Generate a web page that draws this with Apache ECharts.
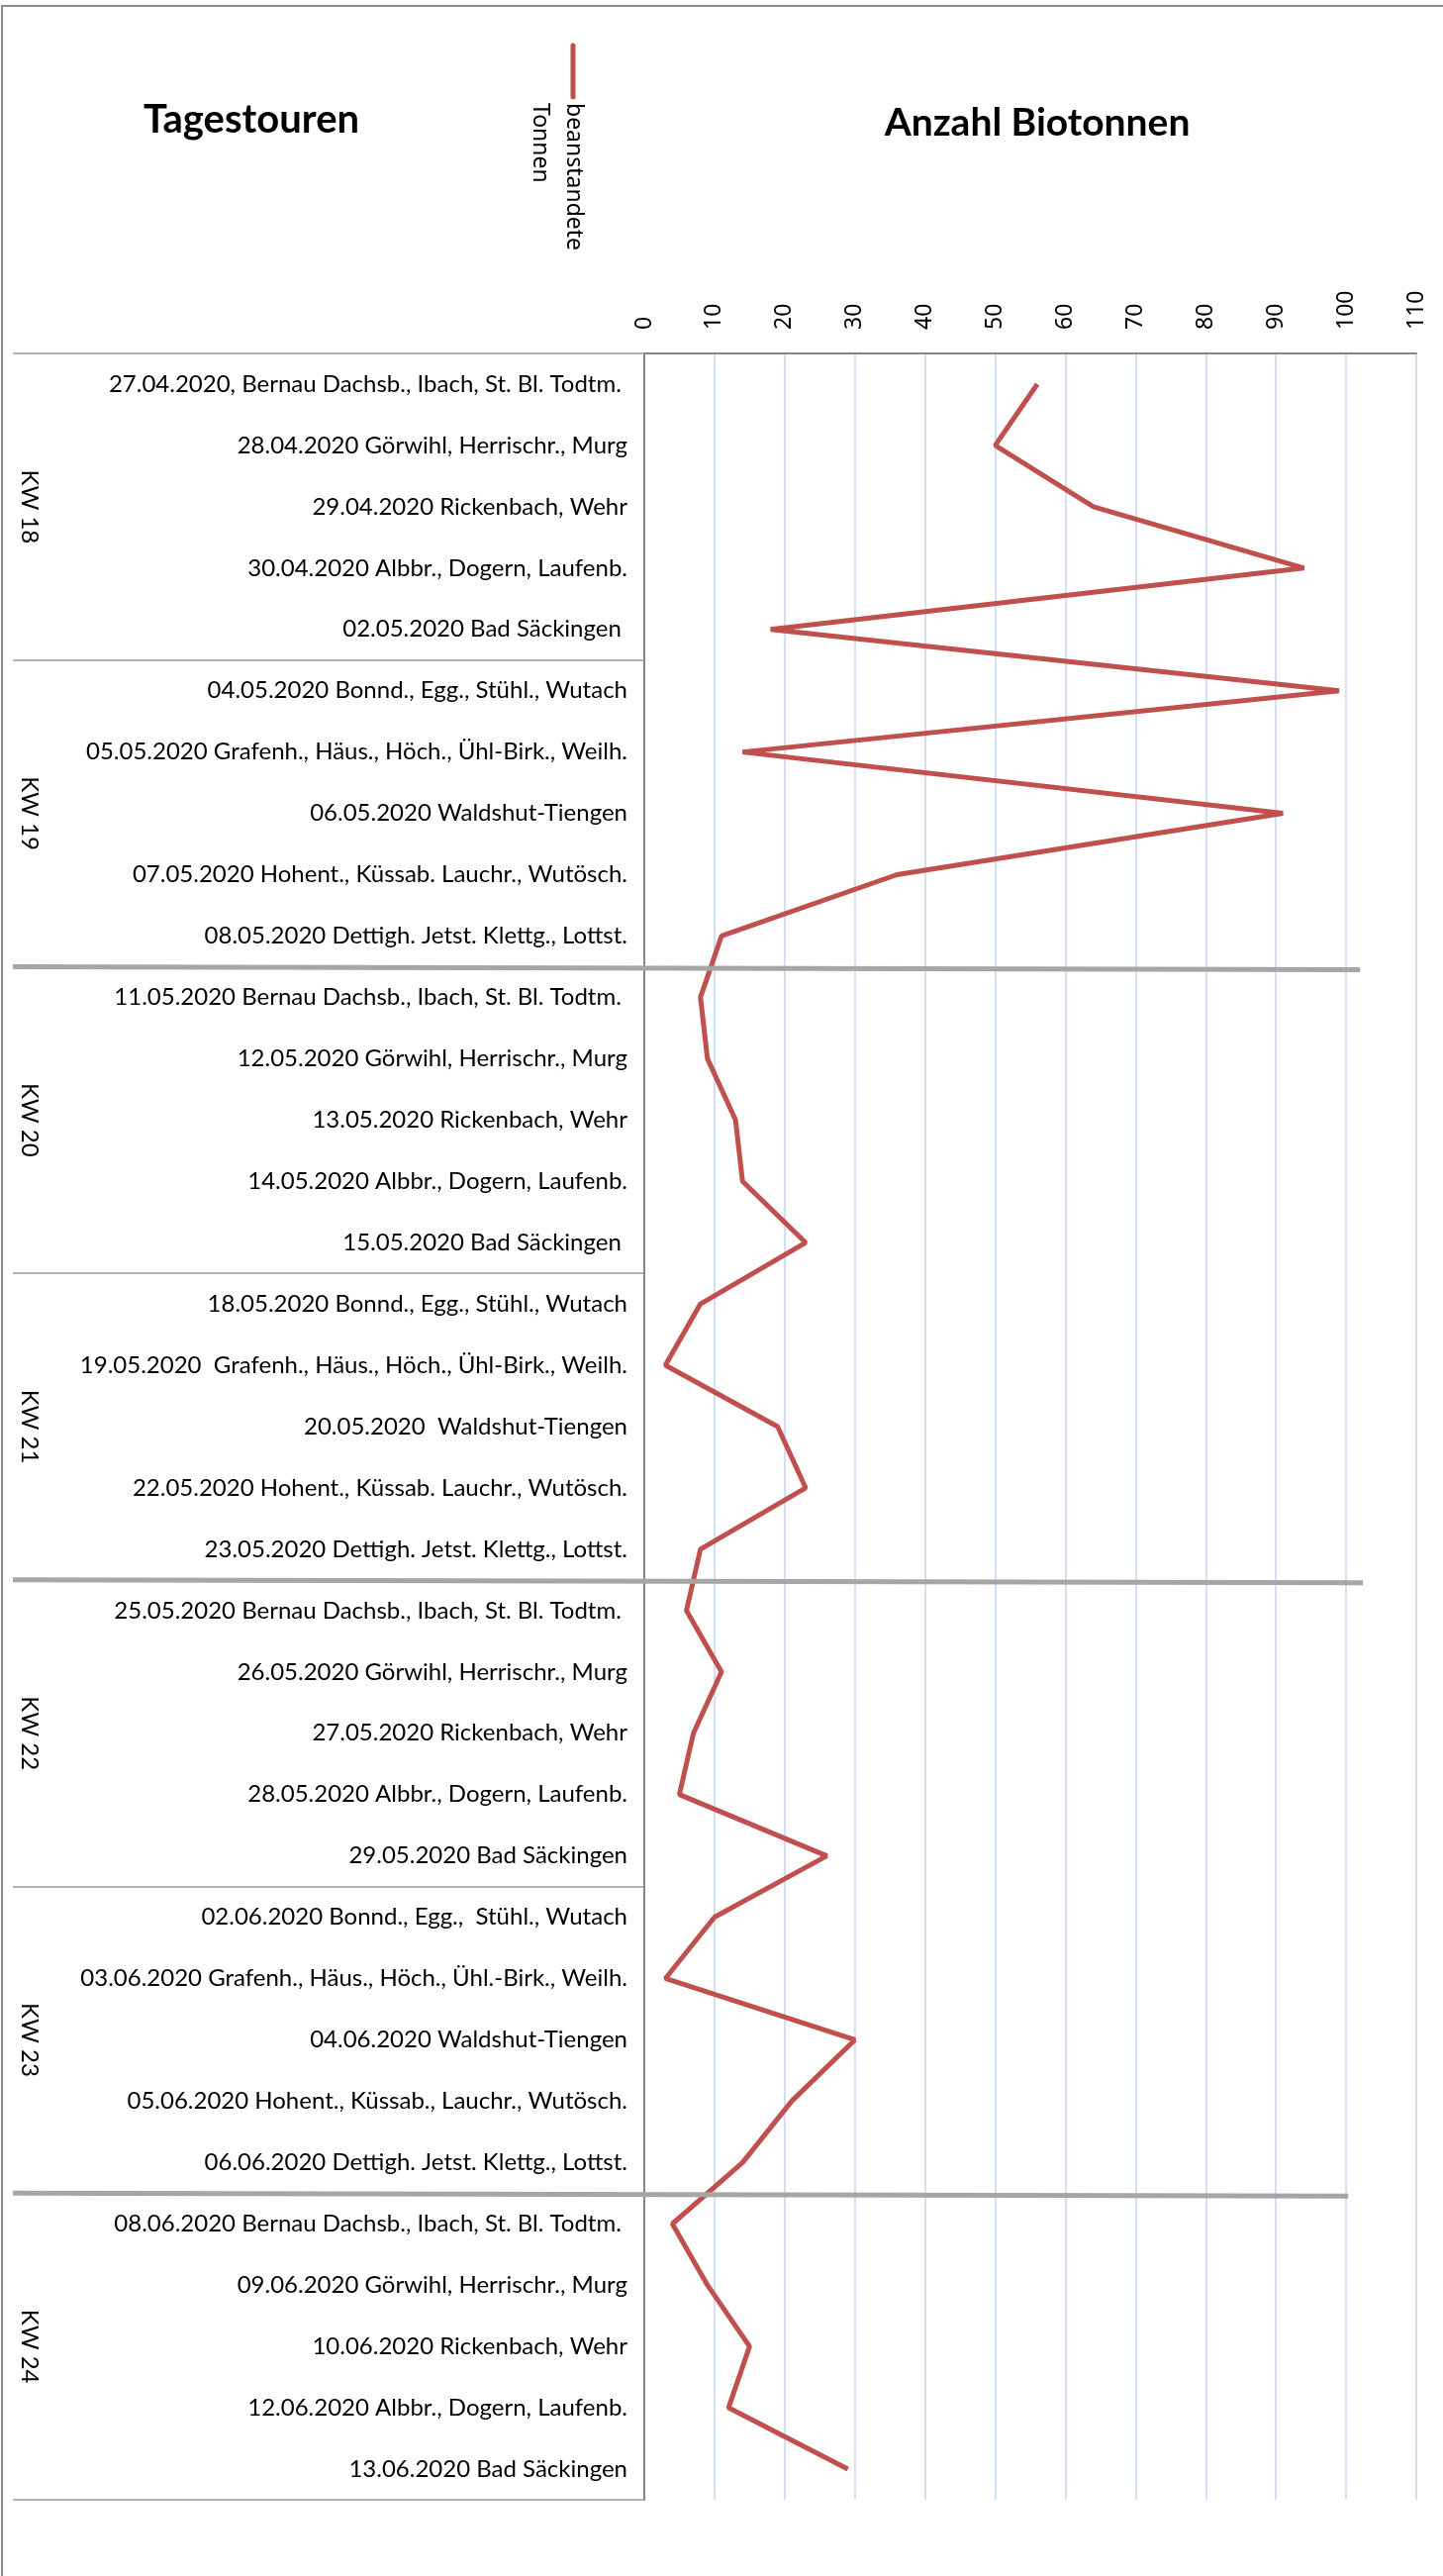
<!DOCTYPE html>
<html>
<head>
<meta charset="utf-8">
<script src="https://cdn.jsdelivr.net/npm/echarts@6/dist/echarts.min.js"></script>
<style>
html,body{margin:0;padding:0;background:#fff;}
#chart{width:1458px;height:2602px;}
</style>
</head>
<body>
<div id="chart"></div>
<script>
// ---- data ----
const tours = [
  "27.04.2020, Bernau Dachsb., Ibach, St. Bl. Todtm. ",
  "28.04.2020 Görwihl, Herrischr., Murg",
  "29.04.2020 Rickenbach, Wehr",
  "30.04.2020 Albbr., Dogern, Laufenb.",
  "02.05.2020 Bad Säckingen ",
  "04.05.2020 Bonnd., Egg., Stühl., Wutach",
  "05.05.2020 Grafenh., Häus., Höch., Ühl-Birk., Weilh.",
  "06.05.2020 Waldshut-Tiengen",
  "07.05.2020 Hohent., Küssab. Lauchr., Wutösch.",
  "08.05.2020 Dettigh. Jetst. Klettg., Lottst.",
  "11.05.2020 Bernau Dachsb., Ibach, St. Bl. Todtm. ",
  "12.05.2020 Görwihl, Herrischr., Murg",
  "13.05.2020 Rickenbach, Wehr",
  "14.05.2020 Albbr., Dogern, Laufenb.",
  "15.05.2020 Bad Säckingen ",
  "18.05.2020 Bonnd., Egg., Stühl., Wutach",
  "19.05.2020  Grafenh., Häus., Höch., Ühl-Birk., Weilh.",
  "20.05.2020  Waldshut-Tiengen",
  "22.05.2020 Hohent., Küssab. Lauchr., Wutösch.",
  "23.05.2020 Dettigh. Jetst. Klettg., Lottst.",
  "25.05.2020 Bernau Dachsb., Ibach, St. Bl. Todtm. ",
  "26.05.2020 Görwihl, Herrischr., Murg",
  "27.05.2020 Rickenbach, Wehr",
  "28.05.2020 Albbr., Dogern, Laufenb.",
  "29.05.2020 Bad Säckingen",
  "02.06.2020 Bonnd., Egg.,  Stühl., Wutach",
  "03.06.2020 Grafenh., Häus., Höch., Ühl.-Birk., Weilh.",
  "04.06.2020 Waldshut-Tiengen",
  "05.06.2020 Hohent., Küssab., Lauchr., Wutösch.",
  "06.06.2020 Dettigh. Jetst. Klettg., Lottst.",
  "08.06.2020 Bernau Dachsb., Ibach, St. Bl. Todtm. ",
  "09.06.2020 Görwihl, Herrischr., Murg",
  "10.06.2020 Rickenbach, Wehr",
  "12.06.2020 Albbr., Dogern, Laufenb.",
  "13.06.2020 Bad Säckingen"
];
const weeks = ["KW 18", "KW 19", "KW 20", "KW 21", "KW 22", "KW 23", "KW 24"];
const rejected = [56, 50, 64, 94, 18, 99, 14, 91, 36, 11,
                  8, 9, 13, 14, 23, 8, 3, 19, 23, 8,
                  6, 11, 7, 5, 26, 10, 3, 30, 21, 14,
                  4, 9, 15, 12, 29];
const seriesName = "beanstandete\nTonnen";
const leftTitle = "Tagestouren";
const rightTitle = "Anzahl Biotonnen";

// ---- chart ----
const chart = echarts.init(document.getElementById('chart'), null, {renderer: 'canvas'});
const LBL = 'Lato, "Noto Sans", sans-serif';
const NUM = '"Noto Sans", "Open Sans", sans-serif';

chart.setOption({
  animation: false,
  backgroundColor: '#ffffff',
  grid: {left: 651, top: 357, width: 780, height: 2168, containLabel: false},
  xAxis: {
    type: 'value', position: 'top', min: 0, max: 110, interval: 10,
    axisLine: {show: true, lineStyle: {color: '#868686', width: 2}},
    axisTick: {show: false},
    axisLabel: {rotate: -90, margin: 24, fontSize: 23, fontFamily: NUM, color: '#000'},
    splitLine: {show: true, lineStyle: {color: '#c5d5ee', width: 1.5}}
  },
  yAxis: [
    {
      type: 'category', inverse: true, data: tours, position: 'left',
      axisLine: {show: true, lineStyle: {color: '#868686', width: 2}},
      axisTick: {show: true, inside: false, length: 638, interval: function (i) { return i % 5 === 0; },
                 lineStyle: {color: '#9a9a9a', width: 1.5}},
      axisLabel: {interval: 0, margin: 17, fontSize: 24, fontFamily: LBL, color: '#000'},
      splitLine: {show: false}
    },
    {
      type: 'category', inverse: true, data: weeks, position: 'left', offset: 0,
      axisLine: {show: false}, axisTick: {show: false},
      axisLabel: {interval: 0, rotate: -90, margin: 621, align: 'center', verticalAlign: 'middle',
                  fontSize: 24, fontFamily: LBL, color: '#000'},
      splitLine: {show: false}
    }
  ],
  series: [{
    type: 'line', name: seriesName, data: rejected, yAxisIndex: 0, xAxisIndex: 0,
    symbol: 'none', smooth: false,
    lineStyle: {color: '#c0504d', width: 5},
    itemStyle: {color: '#c0504d'}
  }]
});

// decorations computed through the axes
const yPix = function (i) { return chart.convertToPixel({yAxisIndex: 0}, i); };
const xPix = function (v) { return chart.convertToPixel({xAxisIndex: 0}, v); };
const boundary = function (k) { return (yPix(k - 1) + yPix(k)) / 2; };
const seps = [[10, 102], [20, 102.4], [30, 100.3]];
const elements = [];
seps.forEach(function (s) {
  const y = boundary(s[0]);
  elements.push({type: 'line', z: 50, shape: {x1: 13, y1: y, x2: xPix(s[1]), y2: y + 3},
                 style: {stroke: '#a6a6a6', lineWidth: 5}});
});
// outer frame
elements.push({type: 'polyline', z: 50, shape: {points: [[2, 2602], [2, 6], [1458, 6]]},
               style: {stroke: '#8c8c8c', lineWidth: 2, fill: null}});
// titles
elements.push({type: 'text', z: 60, x: 254, y: 121,
               style: {text: leftTitle, fontSize: 40, fontWeight: 'bold', fontFamily: LBL, fill: '#000',
                       align: 'center', verticalAlign: 'middle', textAlign: 'center', textVerticalAlign: 'middle'}});
elements.push({type: 'text', z: 60, x: 1048, y: 124,
               style: {text: rightTitle, fontSize: 39, fontWeight: 'bold', fontFamily: LBL, fill: '#000',
                       align: 'center', verticalAlign: 'middle', textAlign: 'center', textVerticalAlign: 'middle'}});
// legend
elements.push({type: 'line', z: 60, shape: {x1: 579, y1: 46, x2: 579, y2: 98},
               style: {stroke: '#c0504d', lineWidth: 5, lineCap: 'round'}});
const legLines = seriesName.split('\n');
elements.push({type: 'text', z: 60, x: 580, y: 104, rotation: -Math.PI / 2,
               style: {text: legLines[0], fontSize: 23, fontFamily: NUM, fill: '#000',
                       align: 'left', verticalAlign: 'middle', textAlign: 'left', textVerticalAlign: 'middle'}});
elements.push({type: 'text', z: 60, x: 546, y: 104, rotation: -Math.PI / 2,
               style: {text: legLines[1], fontSize: 23, fontFamily: NUM, fill: '#000',
                       align: 'left', verticalAlign: 'middle', textAlign: 'left', textVerticalAlign: 'middle'}});
chart.setOption({graphic: {elements: elements}});
</script>
</body>
</html>
